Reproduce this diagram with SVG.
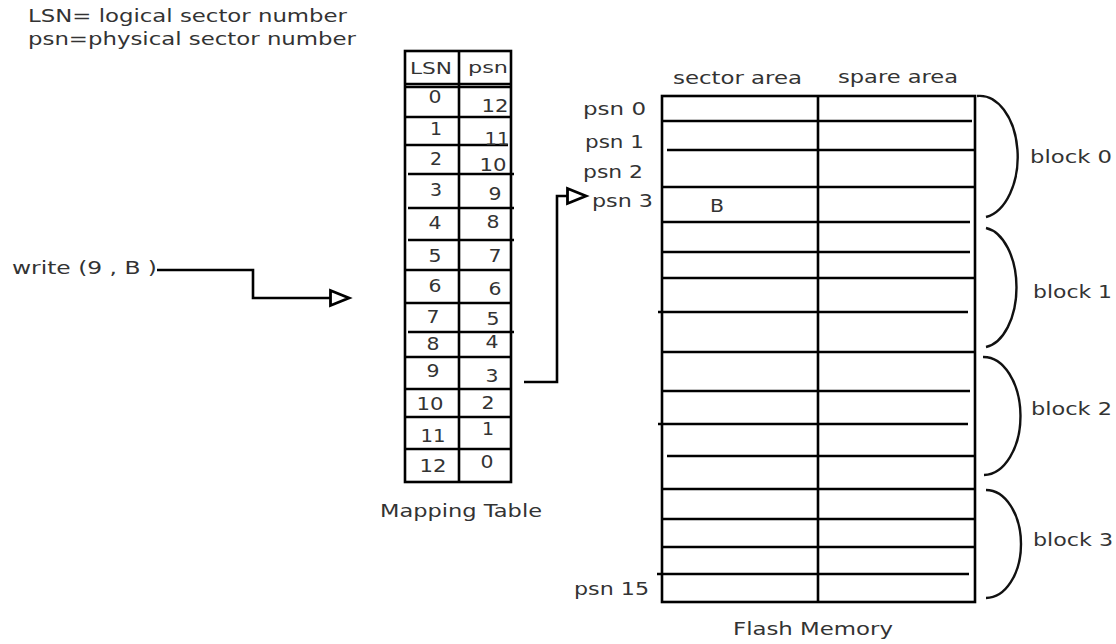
<svg xmlns="http://www.w3.org/2000/svg" width="1116" height="644" viewBox="0 0 1116 644">
<style>
.t{font-family:"DejaVu Sans","Liberation Sans",sans-serif;font-size:18px;fill:#333}
.h{font-size:16px}
.m{text-anchor:middle}
.ln{stroke:#000;stroke-width:2.6;fill:none}
.br{stroke:#111;stroke-width:2.4;fill:none}
</style>
<defs>
<marker id="tri" markerUnits="userSpaceOnUse" markerWidth="24" markerHeight="20" refX="1" refY="9" orient="auto" viewBox="0 0 24 18">
<path d="M1.5,1.5 L20,9 L1.5,16.5 Z" fill="#fff" stroke="#000" stroke-width="2.8" stroke-linejoin="miter"/>
</marker>
</defs>
<rect width="1116" height="644" fill="#fff"/>
<g id="legend">
<text class="t" x="28" y="22" textLength="319" lengthAdjust="spacingAndGlyphs">LSN= logical sector number</text>
<text class="t" x="28" y="45" textLength="328" lengthAdjust="spacingAndGlyphs">psn=physical sector number</text>
</g>
<g id="write">
<text class="t" x="12" y="274" textLength="145" lengthAdjust="spacingAndGlyphs">write (9 , B )</text>
</g>
<g id="mapping-table">
<rect class="ln" x="405" y="51" width="106" height="431"/>
<line class="ln" x1="459" y1="51" x2="459" y2="482"/>
<line class="ln" x1="405" y1="84" x2="511" y2="84"/>
<line class="ln" x1="405" y1="87" x2="511" y2="87" stroke-width="1.5"/>
<line class="ln" x1="405" y1="117" x2="511" y2="117"/>
<line class="ln" x1="405" y1="145" x2="508" y2="145"/>
<line class="ln" x1="408" y1="174" x2="514" y2="174"/>
<line class="ln" x1="408" y1="208" x2="514" y2="208"/>
<line class="ln" x1="408" y1="240" x2="514" y2="240"/>
<line class="ln" x1="405" y1="270" x2="511" y2="270"/>
<line class="ln" x1="405" y1="303" x2="511" y2="303"/>
<line class="ln" x1="408" y1="332" x2="514" y2="332"/>
<line class="ln" x1="405" y1="357" x2="511" y2="357"/>
<line class="ln" x1="405" y1="389" x2="511" y2="389"/>
<line class="ln" x1="405" y1="417" x2="511" y2="417"/>
<line class="ln" x1="405" y1="449" x2="511" y2="449"/>
<text class="t h" x="410" y="74" textLength="42" lengthAdjust="spacingAndGlyphs">LSN</text>
<text class="t h" x="468" y="73" textLength="40" lengthAdjust="spacingAndGlyphs">psn</text>
<text class="t m" x="435" y="103" textLength="13" lengthAdjust="spacingAndGlyphs">0</text>
<text class="t m" x="436" y="135" textLength="12" lengthAdjust="spacingAndGlyphs">1</text>
<text class="t m" x="436" y="165" textLength="12" lengthAdjust="spacingAndGlyphs">2</text>
<text class="t m" x="436" y="196" textLength="12" lengthAdjust="spacingAndGlyphs">3</text>
<text class="t m" x="435" y="229" textLength="13" lengthAdjust="spacingAndGlyphs">4</text>
<text class="t m" x="435" y="262" textLength="13" lengthAdjust="spacingAndGlyphs">5</text>
<text class="t m" x="435" y="292" textLength="13" lengthAdjust="spacingAndGlyphs">6</text>
<text class="t m" x="433" y="323" textLength="13" lengthAdjust="spacingAndGlyphs">7</text>
<text class="t m" x="433" y="350" textLength="13" lengthAdjust="spacingAndGlyphs">8</text>
<text class="t m" x="433" y="377" textLength="13" lengthAdjust="spacingAndGlyphs">9</text>
<text class="t m" x="430" y="410" textLength="27" lengthAdjust="spacingAndGlyphs">10</text>
<text class="t m" x="433" y="442" textLength="25" lengthAdjust="spacingAndGlyphs">11</text>
<text class="t m" x="433" y="472" textLength="27" lengthAdjust="spacingAndGlyphs">12</text>
<text class="t m" x="495" y="112" textLength="27" lengthAdjust="spacingAndGlyphs">12</text>
<text class="t m" x="497" y="145" textLength="25" lengthAdjust="spacingAndGlyphs">11</text>
<text class="t m" x="493" y="171" textLength="27" lengthAdjust="spacingAndGlyphs">10</text>
<text class="t m" x="495" y="200" textLength="13" lengthAdjust="spacingAndGlyphs">9</text>
<text class="t m" x="493" y="228" textLength="13" lengthAdjust="spacingAndGlyphs">8</text>
<text class="t m" x="495" y="262" textLength="13" lengthAdjust="spacingAndGlyphs">7</text>
<text class="t m" x="495" y="295" textLength="13" lengthAdjust="spacingAndGlyphs">6</text>
<text class="t m" x="493" y="325" textLength="13" lengthAdjust="spacingAndGlyphs">5</text>
<text class="t m" x="492" y="348" textLength="13" lengthAdjust="spacingAndGlyphs">4</text>
<text class="t m" x="492" y="382" textLength="13" lengthAdjust="spacingAndGlyphs">3</text>
<text class="t m" x="488" y="409" textLength="13" lengthAdjust="spacingAndGlyphs">2</text>
<text class="t m" x="488" y="435" textLength="12" lengthAdjust="spacingAndGlyphs">1</text>
<text class="t m" x="487" y="468" textLength="13" lengthAdjust="spacingAndGlyphs">0</text>
<text class="t" x="380" y="517" textLength="162" lengthAdjust="spacingAndGlyphs">Mapping Table</text>
</g>
<g id="flash-memory">
<rect class="ln" x="662" y="96" width="313" height="506"/>
<line class="ln" x1="818" y1="96" x2="818" y2="602"/>
<line class="ln" x1="662" y1="121" x2="972" y2="121"/>
<line class="ln" x1="667" y1="150" x2="975" y2="150"/>
<line class="ln" x1="662" y1="187" x2="975" y2="187"/>
<line class="ln" x1="662" y1="222" x2="970" y2="222"/>
<line class="ln" x1="662" y1="252" x2="970" y2="252"/>
<line class="ln" x1="662" y1="278" x2="975" y2="278"/>
<line class="ln" x1="658" y1="312" x2="968" y2="312"/>
<line class="ln" x1="662" y1="352" x2="975" y2="352"/>
<line class="ln" x1="662" y1="391" x2="970" y2="391"/>
<line class="ln" x1="658" y1="424" x2="968" y2="424"/>
<line class="ln" x1="667" y1="456" x2="975" y2="456"/>
<line class="ln" x1="662" y1="489" x2="975" y2="489"/>
<line class="ln" x1="662" y1="519" x2="975" y2="519"/>
<line class="ln" x1="662" y1="547" x2="975" y2="547"/>
<line class="ln" x1="657" y1="574" x2="969" y2="574"/>
<text class="t" x="673" y="84" textLength="129" lengthAdjust="spacingAndGlyphs">sector area</text>
<text class="t" x="838" y="83" textLength="120" lengthAdjust="spacingAndGlyphs">spare area</text>
<text class="t" x="583" y="115" textLength="63" lengthAdjust="spacingAndGlyphs">psn 0</text>
<text class="t" x="585" y="148" textLength="59" lengthAdjust="spacingAndGlyphs">psn 1</text>
<text class="t" x="583" y="178" textLength="60" lengthAdjust="spacingAndGlyphs">psn 2</text>
<text class="t" x="592" y="207" textLength="61" lengthAdjust="spacingAndGlyphs">psn 3</text>
<text class="t" x="574" y="595" textLength="75" lengthAdjust="spacingAndGlyphs">psn 15</text>
<text class="t" x="710" y="212" textLength="14" lengthAdjust="spacingAndGlyphs">B</text>
<text class="t" x="733" y="635" textLength="160" lengthAdjust="spacingAndGlyphs">Flash Memory</text>
</g>
<g id="block-0">
<path class="br" d="M977,96 A38,61 0 0 1 986,217"/>
<text class="t" x="1030" y="163" textLength="82" lengthAdjust="spacingAndGlyphs">block 0</text>
</g>
<g id="block-1">
<path class="br" d="M986,228 A35,60 0 0 1 986,347"/>
<text class="t" x="1033" y="298" textLength="79" lengthAdjust="spacingAndGlyphs">block 1</text>
</g>
<g id="block-2">
<path class="br" d="M983,357 A37,59 0 0 1 984,475"/>
<text class="t" x="1031" y="415" textLength="81" lengthAdjust="spacingAndGlyphs">block 2</text>
</g>
<g id="block-3">
<path class="br" d="M986,490 A35,54 0 0 1 986,598"/>
<text class="t" x="1033" y="546" textLength="80" lengthAdjust="spacingAndGlyphs">block 3</text>
</g>
<g id="connectors">
<path class="ln" d="M157,270 H253 V298 H330" marker-end="url(#tri)"/>
<path class="ln" d="M524,382 H557 V196 H567" marker-end="url(#tri)"/>
</g>
</svg>
